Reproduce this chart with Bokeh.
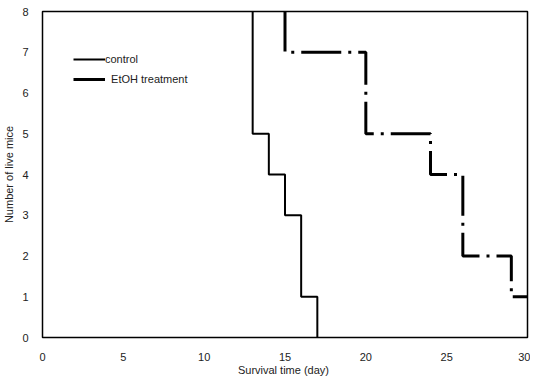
from bokeh.plotting import figure
from bokeh.models import Legend, LegendItem, Range1d, FixedTicker
from bokeh.embed import file_html
from bokeh.resources import INLINE

# Data (step survival curves)
control_days = [13, 13, 14, 14, 15, 15, 16, 16, 17, 17]
control_mice = [8, 5, 5, 4, 4, 3, 3, 1, 1, 0]
etoh_days = [15, 15, 20, 20, 24, 24, 26, 26, 29, 29, 30]
etoh_mice = [8, 7, 7, 5, 5, 4, 4, 2, 2, 1, 1]
x_ticks = [0, 5, 10, 15, 20, 25, 30]
y_ticks = [0, 1, 2, 3, 4, 5, 6, 7, 8]

FONT = "Liberation Sans"

p = figure(width=530, height=378, output_backend="svg", toolbar_location=None,
           x_range=Range1d(0, 30), y_range=Range1d(0, 8),
           min_border_left=36, min_border_right=3, min_border_top=11, min_border_bottom=36)
p.xgrid.visible = False
p.ygrid.visible = False
p.outline_line_color = "black"
p.outline_line_width = 1.5
p.background_fill_color = "white"

r1 = p.line(control_days, control_mice, line_color="black", line_width=2)
r2 = p.line(etoh_days, etoh_mice, line_color="black", line_width=3, line_dash="40 7 3 7")

for ax in (p.xaxis[0], p.yaxis[0]):
    ax.axis_line_color = None
    ax.major_tick_line_color = None
    ax.minor_tick_line_color = None
    ax.major_label_text_font = FONT
    ax.major_label_text_font_size = "11px"
    ax.major_label_text_color = "#222222"
    ax.axis_label_text_font = FONT
    ax.axis_label_text_font_size = "11px"
    ax.axis_label_text_font_style = "normal"
    ax.axis_label_text_color = "#222222"

p.xaxis.ticker = FixedTicker(ticks=x_ticks)
p.yaxis.ticker = FixedTicker(ticks=y_ticks)
p.xaxis.axis_label = "Survival time  (day)"
p.yaxis.axis_label = "Number of live mice"
p.xaxis.major_label_standoff = 9
p.yaxis.major_label_standoff = 8
p.xaxis.axis_label_standoff = 0
p.yaxis.axis_label_standoff = 4

legend = Legend(items=[LegendItem(label="control", renderers=[r1]),
                       LegendItem(label="  EtOH treatment", renderers=[r2])],
                location=(31, 248), padding=0, margin=0, spacing=0,
                glyph_width=32, glyph_height=20, label_height=20, label_standoff=0,
                border_line_color=None, background_fill_alpha=0,
                label_text_font=FONT, label_text_font_size="11px", label_text_color="#222222")
p.add_layout(legend)

open("out.html", "w").write(file_html(p, INLINE))
